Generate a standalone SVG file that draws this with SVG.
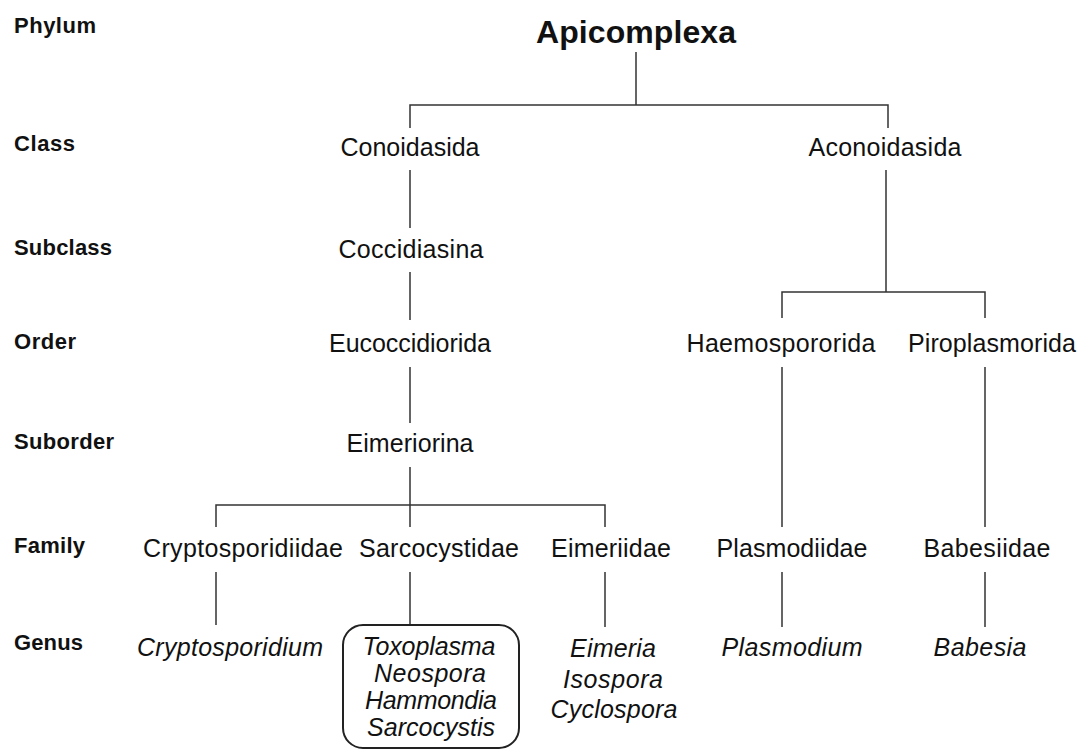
<svg xmlns="http://www.w3.org/2000/svg" width="1089" height="755" viewBox="0 0 1089 755">
<style>
.rank{font-family:"Liberation Sans",Arial,sans-serif;font-weight:bold;font-size:22px;fill:#111}
.t{font-family:"Liberation Sans",Arial,sans-serif;font-size:25px;fill:#111;text-anchor:middle}
.g{font-family:"Liberation Sans",Arial,sans-serif;font-size:25px;font-style:italic;fill:#111;text-anchor:middle}
.c{fill:none;stroke:#333;stroke-width:1.5}
</style>
<rect width="1089" height="755" fill="#fff"/>
<g id="ranks">
<text class="rank" x="14" y="33" textLength="82">Phylum</text>
<text class="rank" x="14" y="151" textLength="61">Class</text>
<text class="rank" x="14" y="255" textLength="98">Subclass</text>
<text class="rank" x="14" y="349" textLength="62">Order</text>
<text class="rank" x="14" y="449" textLength="100">Suborder</text>
<text class="rank" x="14" y="553" textLength="71">Family</text>
<text class="rank" x="14" y="650" textLength="69">Genus</text>
</g>
<g id="connectors" class="c">
<path d="M636 52V105M410 128V105H888V128"/>
<path d="M410 170V228M410 272V320M410 367V423M410 467V527"/>
<path d="M216 527V505H605V527"/>
<path d="M886 170V292M782 318V292H985V318"/>
<path d="M782 367V527M985 367V527"/>
<path d="M216 572V625M410 572V625M605 572V627M782 572V627M985 572V627"/>
</g>
<g id="apicomplexa"><text x="636" y="43" text-anchor="middle" textLength="200" style="font-family:'Liberation Sans',Arial,sans-serif;font-weight:bold;font-size:32px;fill:#111">Apicomplexa</text></g>
<g id="conoidasida"><text class="t" x="410" y="156" textLength="139">Conoidasida</text></g>
<g id="aconoidasida"><text class="t" x="885" y="156" textLength="153">Aconoidasida</text></g>
<g id="coccidiasina"><text class="t" x="411" y="258" textLength="145">Coccidiasina</text></g>
<g id="eucoccidiorida"><text class="t" x="410" y="352" textLength="162">Eucoccidiorida</text></g>
<g id="eimeriorina"><text class="t" x="410" y="452" textLength="127">Eimeriorina</text></g>
<g id="haemospororida"><text class="t" x="781" y="352" textLength="189">Haemospororida</text></g>
<g id="piroplasmorida"><text class="t" x="992" y="352" textLength="168">Piroplasmorida</text></g>
<g id="cryptosporidiidae"><text class="t" x="243" y="557" textLength="200">Cryptosporidiidae</text></g>
<g id="sarcocystidae"><text class="t" x="439" y="557" textLength="160">Sarcocystidae</text></g>
<g id="eimeriidae"><text class="t" x="611" y="557" textLength="120">Eimeriidae</text></g>
<g id="plasmodiidae"><text class="t" x="792" y="557" textLength="151">Plasmodiidae</text></g>
<g id="babesiidae"><text class="t" x="987" y="557" textLength="127">Babesiidae</text></g>
<g id="cryptosporidium"><text class="g" x="230" y="656" textLength="186">Cryptosporidium</text></g>
<g id="sarcocystidae-genera">
<rect x="343" y="625" width="176" height="123" rx="20" fill="none" stroke="#222" stroke-width="2"/>
<text class="g" x="429" y="655" textLength="133">Toxoplasma</text>
<text class="g" x="430" y="682" textLength="112">Neospora</text>
<text class="g" x="431" y="709" textLength="132">Hammondia</text>
<text class="g" x="431" y="736" textLength="128">Sarcocystis</text>
</g>
<g id="eimeriidae-genera">
<text class="g" x="613" y="657" textLength="86">Eimeria</text>
<text class="g" x="613" y="688" textLength="100">Isospora</text>
<text class="g" x="614" y="718" textLength="127">Cyclospora</text>
</g>
<g id="plasmodium"><text class="g" x="792" y="656" textLength="141">Plasmodium</text></g>
<g id="babesia"><text class="g" x="980" y="656" textLength="93">Babesia</text></g>
</svg>
